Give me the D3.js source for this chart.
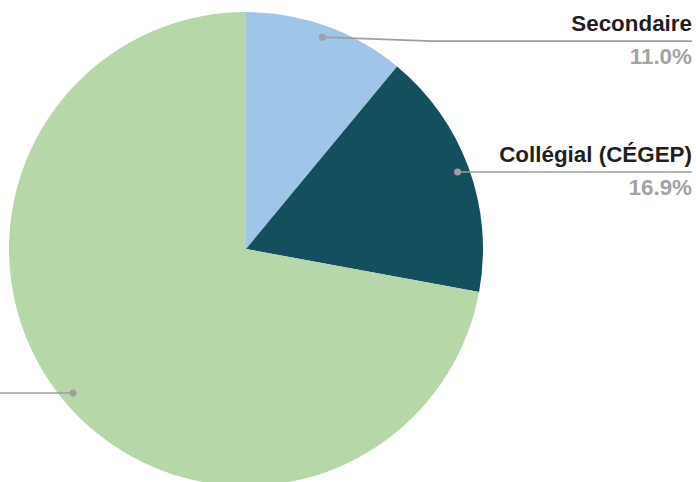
<!DOCTYPE html>
<html>
<head>
<meta charset="utf-8">
<script src="https://cdn.jsdelivr.net/npm/d3@7"></script>
<style>
  html, body { margin: 0; padding: 0; background: #fff; overflow: hidden; }
  svg { display: block; }
  text { font-family: "Liberation Sans", Arial, sans-serif; font-weight: bold; }
</style>
</head>
<body>
<svg id="chart" width="696" height="482"></svg>
<script>
// Répartition par niveau de scolarité
const categories = ["Secondaire", "Collégial (CÉGEP)", "Universitaire"];
const values = [11.0, 16.9, 72.1];
const colors = ["#9fc5e8", "#134f5c", "#b6d7a8"];

const width = 696, height = 482;
const cx = 246, cy = 249, radius = 237;

const svg = d3.select("#chart");
const g = svg.append("g").attr("transform", `translate(${cx},${cy})`);

const pie = d3.pie().sort(null).value(d => d.value);
const data = categories.map((c, i) => ({ name: c, value: values[i], color: colors[i] }));
const arcs = pie(data);
const total = d3.sum(values);

const arc = d3.arc().innerRadius(0).outerRadius(radius);
const dotArc = d3.arc().innerRadius(radius * 0.95).outerRadius(radius * 0.95);

g.selectAll("path.slice")
  .data(arcs)
  .enter().append("path")
  .attr("class", "slice")
  .attr("d", arc)
  .attr("fill", d => d.data.color);

// Leader lines and labels; labels on the left side sit past the left edge
const labelRight = 692 - cx;
const labelLeft = -cx - 12;
const fmt = d3.format(".1f");

arcs.forEach((a, i) => {
  const [dx, dy] = dotArc.centroid(a);
  const right = dx > 0;
  const lineY = right ? dy + (i === 0 ? 4 : 0) : dy;
  const endX = right ? labelRight : labelLeft;
  const elbowX = right ? dx + 110 : dx - 110;

  g.append("polyline")
    .attr("points", `${dx},${dy} ${elbowX},${lineY} ${endX},${lineY}`)
    .attr("fill", "none")
    .attr("stroke", "#9e9e9e")
    .attr("stroke-width", 1.6);

  g.append("circle")
    .attr("cx", dx).attr("cy", dy).attr("r", 3.5)
    .attr("fill", "#9e9e9e");

  const tx = endX;

  g.append("text")
    .attr("x", tx).attr("y", lineY - 10)
    .attr("text-anchor", "end")
    .attr("font-size", 22.4)
    .attr("fill", "#1f1f1f")
    .text(a.data.name);

  g.append("text")
    .attr("x", tx).attr("y", lineY + 23)
    .attr("text-anchor", "end")
    .attr("font-size", 22.4)
    .attr("fill", "#a3a3a3")
    .text(fmt(a.data.value / total * 100) + "%");
});
</script>
</body>
</html>
